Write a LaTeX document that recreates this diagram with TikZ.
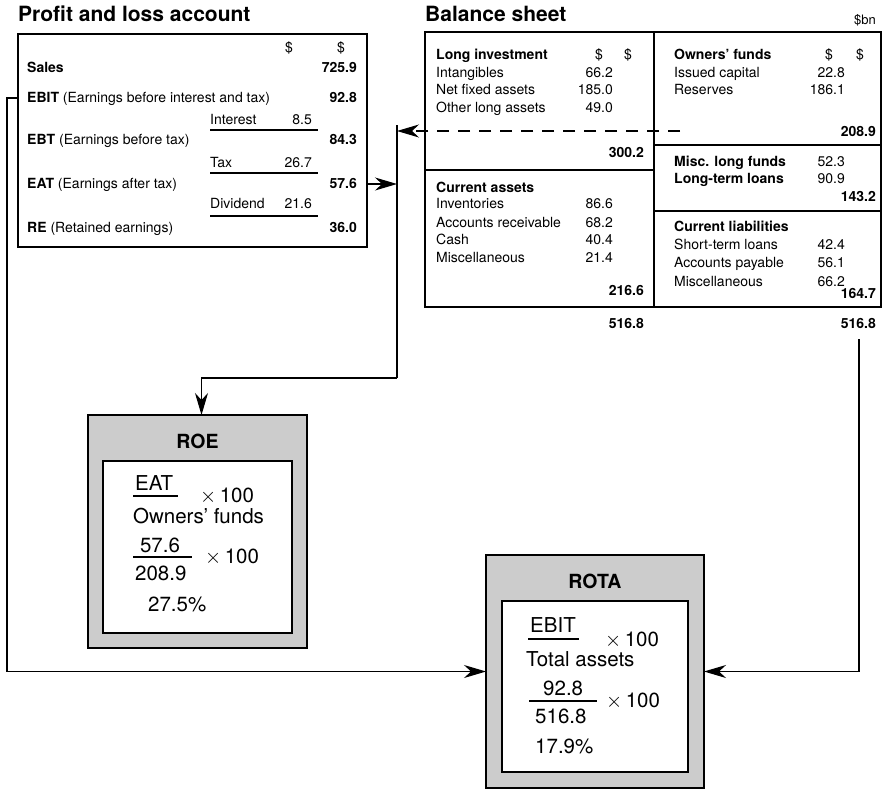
\documentclass[tikz,border=0pt]{standalone}
\usepackage{fontspec}
\setmainfont{TeX Gyre Heros}
\usetikzlibrary{arrows.meta}
\definecolor{panelgray}{HTML}{CCCCCC}
\newcommand\timesop{{\fontsize{22}{22}\selectfont$\times$}}
\begin{document}
\begin{tikzpicture}[x=1pt,y=-1pt,
  t/.style={inner sep=0pt, font=\fontsize{14}{16}\selectfont},
  tl/.style={t, anchor=base west},
  tr/.style={t, anchor=base east},
  tc/.style={t, anchor=base},
  ttl/.style={inner sep=0pt, anchor=base west, font=\bfseries\fontsize{21}{25}\selectfont},
  fl/.style={inner sep=0pt, anchor=base west, font=\fontsize{20.5}{24}\selectfont},
  fc/.style={fl, anchor=base},
  rtitle/.style={inner sep=0pt, anchor=base, font=\bfseries\fontsize{19.5}{23}\selectfont},
  frame/.style={draw, line width=1.7pt, inner sep=0pt, outer sep=0pt},
  outerpanel/.style={frame, fill=panelgray},
  innerpanel/.style={draw, line width=1.4pt, fill=white, inner sep=0pt, outer sep=0pt},
  rule/.style={line width=1.1pt},
  divider/.style={line width=1.7pt},
  link/.style={line width=1.1pt, -{Stealth[length=22pt,width=13pt,inset=7pt]}},
  plain/.style={line width=1.1pt},
  dlink/.style={link, dash pattern=on 12pt off 9pt}
]
\useasboundingbox (0,0) rectangle (883,790);

% ---------- Profit and loss account ----------
\node[ttl] (pltitle) at (18,21) {Profit and loss account};
\node[frame, minimum width=349pt, minimum height=213pt] (pl) at (192.5,140.5) {};

\node[tc] (plh1) at (289,52) {\$};
\node[tc] (plh2) at (341,52) {\$};
\node[tl] (sales) at (27,72) {\bfseries Sales};
\node[tr] (salesv) at (357,72) {\bfseries 725.9};
\node[tl] (ebit) at (27,102) {\textbf{EBIT} (Earnings before interest and tax)};
\node[tr] (ebitv) at (357,102) {\bfseries 92.8};
\node[tl] (intr) at (210,124) {Interest};
\node[tr] (intrv) at (312,124) {8.5};
\node[tl] (ebt) at (27,144) {\textbf{EBT} (Earnings before tax)};
\node[tr] (ebtv) at (357,144) {\bfseries 84.3};
\node[tl] (tax) at (210,167) {Tax};
\node[tr] (taxv) at (312,167) {26.7};
\node[tl] (eat) at (27,188) {\textbf{EAT} (Earnings after tax)};
\node[tr] (eatv) at (357,188) {\bfseries 57.6};
\node[tl] (divd) at (210,208) {Dividend};
\node[tr] (divdv) at (312,208) {21.6};
\node[tl] (re) at (27,232) {\textbf{RE} (Retained earnings)};
\node[tr] (rev) at (357,232) {\bfseries 36.0};

\draw[rule] (210,130) -- (318,130);
\draw[rule] (210,173) -- (318,173);
\draw[rule] (210,216) -- (318,216);

% ---------- Balance sheet ----------
\node[ttl] (bstitle) at (425,21) {Balance sheet};
\node[inner sep=0pt, anchor=base east, font=\fontsize{13}{15}\selectfont] (unit) at (876,24) {\$bn};
\node[frame, minimum width=456pt, minimum height=275pt] (bs) at (653,169.5) {};
\draw[divider] (654,32) -- (654,307);
\draw[divider] (425,170) -- (654,170);
\draw[divider] (654,145) -- (881,145);
\draw[divider] (654,211) -- (881,211);

% assets side
\node[tl] (li) at (436,59) {\bfseries Long investment};
\node[tc] (lih1) at (599,59) {\$};
\node[tc] (lih2) at (628,59) {\$};
\node[tl] (intg) at (436,77) {Intangibles};
\node[tr] (intgv) at (613,77) {66.2};
\node[tl] (nfa) at (436,94) {Net fixed assets};
\node[tr] (nfav) at (613,94) {185.0};
\node[tl] (ola) at (436,112) {Other long assets};
\node[tr] (olav) at (613,112) {49.0};
\node[tr] (litot) at (644,157) {\bfseries 300.2};

\node[tl] (ca) at (436,192) {\bfseries Current assets};
\node[tl] (inv) at (436,208) {Inventories};
\node[tr] (invv) at (613,208) {86.6};
\node[tl] (ar) at (436,227) {Accounts receivable};
\node[tr] (arv) at (613,227) {68.2};
\node[tl] (cash) at (436,244) {Cash};
\node[tr] (cashv) at (613,244) {40.4};
\node[tl] (misca) at (436,262) {Miscellaneous};
\node[tr] (miscav) at (613,262) {21.4};
\node[tr] (catot) at (644,295) {\bfseries 216.6};
\node[tr] (assets) at (644,328) {\bfseries 516.8};

% liabilities side
\node[tl] (of) at (674,59) {\bfseries Owners’ funds};
\node[tc] (ofh1) at (829,59) {\$};
\node[tc] (ofh2) at (860,59) {\$};
\node[tl] (ic) at (674,77) {Issued capital};
\node[tr] (icv) at (845,77) {22.8};
\node[tl] (res) at (674,94) {Reserves};
\node[tr] (resv) at (845,94) {186.1};
\node[tr] (oftot) at (876,136) {\bfseries 208.9};

\node[tl] (mlf) at (674,166) {\bfseries Misc. long funds};
\node[tr] (mlfv) at (845,166) {52.3};
\node[tl] (ltl) at (674,183) {\bfseries Long-term loans};
\node[tr] (ltlv) at (845,183) {90.9};
\node[tr] (lftot) at (876,201) {\bfseries 143.2};

\node[tl] (cl) at (674,231) {\bfseries Current liabilities};
\node[tl] (stl) at (674,249) {Short-term loans};
\node[tr] (stlv) at (845,249) {42.4};
\node[tl] (ap) at (674,267) {Accounts payable};
\node[tr] (apv) at (845,267) {56.1};
\node[tl] (miscl) at (674,286) {Miscellaneous};
\node[tr] (misclv) at (845,286) {66.2};
\node[tr] (cltot) at (876,298) {\bfseries 164.7};
\node[tr] (liabs) at (876,328) {\bfseries 516.8};

% ---------- ROE panel ----------
\node[outerpanel, minimum width=219pt, minimum height=233pt] (roe) at (197.5,531.5) {};
\node[innerpanel, minimum width=189pt, minimum height=172pt] (roein) at (197.5,547) {};
\node[rtitle] (roet) at (197.5,448) {ROE};
\node[fl] (roen) at (135,490) {EAT};
\draw[rule] (133,496) -- (178,496);
\node[fl] (roex1) at (200,502) {\timesop\,100};
\node[fl] (roed) at (133,523) {Owners’ funds};
\node[fc] (roen2) at (160,552) {57.6};
\draw[rule] (133,557) -- (192,557);
\node[fl] (roex2) at (205,563) {\timesop\,100};
\node[fl] (roed2) at (135,580) {208.9};
\node[fl] (roer) at (148,611) {27.5\%};

% ---------- ROTA panel ----------
\node[outerpanel, minimum width=218pt, minimum height=233pt] (rota) at (595,671.5) {};
\node[innerpanel, minimum width=186pt, minimum height=171pt] (rotain) at (595,686.5) {};
\node[rtitle] (rotat) at (595,588) {ROTA};
\node[fl] (rotan) at (530,632) {EBIT};
\draw[rule] (528,639) -- (579,639);
\node[fl] (rotax1) at (605,646) {\timesop\,100};
\node[fl] (rotad) at (526,666) {Total assets};
\node[fl] (rotan2) at (543,695) {92.8};
\draw[rule] (529,701) -- (597,701);
\node[fl] (rotax2) at (606,707) {\timesop\,100};
\node[fl] (rotad2) at (535,723) {516.8};
\node[fl] (rotar) at (535,753) {17.9\%};

% ---------- connectors ----------
\coordinate (busTop) at (397,125);
\coordinate (busBot) at (397,378);
\coordinate (eatIn) at (397,184);
\coordinate (ofOut) at (680,131);
\coordinate (ofIn) at (397,131);
\coordinate (ebitTurn) at (7,98);
\coordinate (assetsOut) at (859,339);

\draw[plain] (busTop) -- (busBot);
\draw[link] (busBot) -| ([xshift=4pt]roe.north);
\draw[link] (pl.east |- eatIn) -- (eatIn);
\draw[dlink] (ofOut) -- (ofIn);
\draw[link] (pl.west |- ebitTurn) -- (ebitTurn) |- (rota.west);
\draw[link] (assetsOut) |- (rota.east);
\end{tikzpicture}
\end{document}
